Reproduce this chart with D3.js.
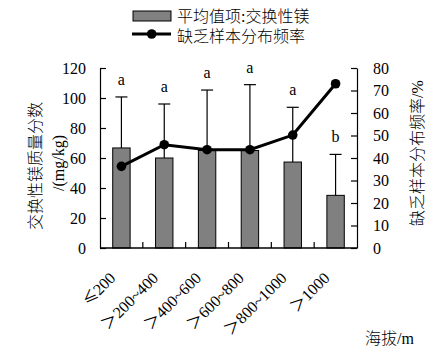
<!DOCTYPE html>
<html><head><meta charset="utf-8">
<script src="https://cdn.jsdelivr.net/npm/d3@7"></script>
<style>
body{margin:0;background:#fff;}
text{font-family:"Liberation Serif","Noto Sans CJK SC",serif;fill:#000;}
</style>
</head><body>
<svg id="c" width="443" height="357"></svg>
<script>
const categories = ["≤200","＞200~400","＞400~600","＞600~800","＞800~1000","＞1000"];
const magnesium = [66.7, 60.0, 65.0, 65.0, 57.3, 35.1];
const errorUpper = [100.7, 96.0, 105.3, 108.9, 93.8, 62.4];
const letters = ["a","a","a","a","a","b"];
const deficiencyRate = [36.3, 45.9, 43.7, 43.7, 50.2, 73.0];
const leftTicks = [0,20,40,60,80,100,120];
const rightTicks = [0,10,20,30,40,50,60,70,80];

const svg = d3.select("#c");
const L = 100, R = 357, T = 68, B = 248;
const xb = d3.scaleBand().domain(categories).range([L, R]);
const yL = d3.scaleLinear().domain([0,120]).range([B, T]);
const yR = d3.scaleLinear().domain([0,80]).range([B, T]);

// bars
svg.append("g").selectAll("rect").data(categories).join("rect")
  .attr("x", d => xb(d) + xb.bandwidth()/2 - 8.7)
  .attr("width", 17.4)
  .attr("y", (d,i) => yL(magnesium[i]))
  .attr("height", (d,i) => B - yL(magnesium[i]))
  .attr("fill", "#808080").attr("stroke", "#000").attr("stroke-width", 1);

// error bars
const eb = svg.append("g").attr("stroke", "#000").attr("stroke-width", 1.2);
categories.forEach((c,i) => {
  const cx = xb(c) + xb.bandwidth()/2;
  eb.append("line").attr("x1", cx).attr("x2", cx).attr("y1", yL(magnesium[i])).attr("y2", yL(errorUpper[i]));
  eb.append("line").attr("x1", cx-6).attr("x2", cx+6).attr("y1", yL(errorUpper[i])).attr("y2", yL(errorUpper[i]));
  svg.append("text").attr("x", cx).attr("y", yL(errorUpper[i]) - 12)
    .attr("text-anchor","middle").attr("font-size", 16).text(letters[i]);
});

// axes
const gl = svg.append("g").attr("transform", `translate(${L},0)`)
  .call(d3.axisLeft(yL).tickValues(leftTicks).tickSize(-6).tickSizeOuter(0).tickPadding(14));
const gr = svg.append("g").attr("transform", `translate(${R},0)`)
  .call(d3.axisRight(yR).tickValues(rightTicks).tickSize(-6).tickSizeOuter(0).tickPadding(16));
[gl, gr].forEach(g => {
  g.selectAll("text").attr("font-size", 16).attr("font-family", "Liberation Serif").attr("fill","#000");
  g.selectAll("path,line").attr("stroke", "#000").attr("stroke-width", 1.2);
});
// bottom axis
svg.append("line").attr("x1", L).attr("x2", R).attr("y1", B).attr("y2", B).attr("stroke","#000").attr("stroke-width",1.5);
categories.slice(1).forEach(c => {
  svg.append("line").attr("x1", xb(c)).attr("x2", xb(c)).attr("y1", B).attr("y2", B-6).attr("stroke","#000").attr("stroke-width",1.2);
});
categories.forEach(c => {
  const cx = xb(c) + xb.bandwidth()/2;
  const t = svg.append("text").attr("transform", `translate(${cx-5},${B+31}) rotate(-45)`)
    .attr("text-anchor","end").attr("font-size", 16);
  if (c.startsWith("≤")) {
    t.append("tspan").attr("font-family","Noto Sans CJK SC").attr("font-size",15).text("≤");
    t.append("tspan").text(c.slice(1));
  } else {
    t.text(c);
  }
});

// line
const line = d3.line().x((d,i) => xb(categories[i]) + xb.bandwidth()/2).y(d => yR(d));
svg.append("path").datum(deficiencyRate).attr("d", line).attr("fill","none").attr("stroke","#000").attr("stroke-width",3);
svg.append("g").selectAll("circle").data(deficiencyRate).join("circle")
  .attr("cx", (d,i) => xb(categories[i]) + xb.bandwidth()/2).attr("cy", d => yR(d)).attr("r", 4.8).attr("fill","#000");

// titles
svg.append("text").attr("transform","translate(35,166) rotate(-90)").attr("text-anchor","middle")
  .attr("dy","0.35em").attr("font-size",16).attr("fill","#222").attr("font-weight",300).text("交换性镁质量分数");
svg.append("text").attr("transform","translate(58,163) rotate(-90)").attr("text-anchor","middle")
  .attr("dy","0.35em").attr("font-size",16).text("/(mg/kg)");
svg.append("text").attr("transform","translate(417,153) rotate(-90)").attr("text-anchor","middle")
  .attr("dy","0.35em").attr("font-size",16).attr("fill","#222").attr("font-weight",300).text("缺乏样本分布频率/%");
svg.append("text").attr("x",365).attr("y",344).attr("font-size",16).attr("font-weight",300).text("海拔/m");

// legend
svg.append("rect").attr("x",133).attr("y",11).attr("width",38).attr("height",10).attr("fill","#808080").attr("stroke","#000");
svg.append("text").attr("x",177).attr("y",16).attr("dy","0.35em").attr("font-size",16).attr("font-weight",300).text("平均值项:交换性镁");
svg.append("line").attr("x1",132).attr("x2",171).attr("y1",34).attr("y2",34).attr("stroke","#000").attr("stroke-width",3);
svg.append("circle").attr("cx",151.7).attr("cy",34).attr("r",4.8).attr("fill","#000");
svg.append("text").attr("x",177).attr("y",36).attr("dy","0.35em").attr("font-size",16).attr("font-weight",300).text("缺乏样本分布频率");
</script>
</body></html>
